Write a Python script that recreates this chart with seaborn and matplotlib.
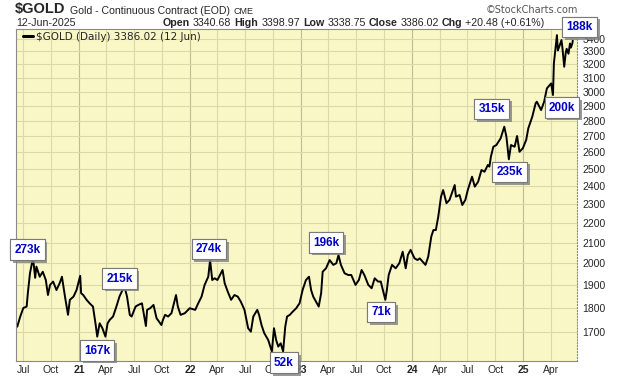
import pandas as pd
import seaborn as sns
import matplotlib.pyplot as plt
import matplotlib.dates as mdates
import matplotlib.ticker as mticker
from matplotlib import patheffects

# -------------------------------------------------
# Data
# -------------------------------------------------

dates = [
    "2020-06-12", "2020-06-22", "2020-07-02", "2020-07-13", "2020-07-17", "2020-07-24",
    "2020-08-03", "2020-08-10", "2020-08-14", "2020-08-25", "2020-09-04", "2020-09-14",
    "2020-09-21", "2020-09-28", "2020-10-08", "2020-10-19", "2020-10-30", "2020-11-06",
    "2020-11-16", "2020-11-26", "2020-12-02", "2020-12-14", "2020-12-24",
    "2021-01-05", "2021-01-08", "2021-01-15", "2021-01-26", "2021-02-05", "2021-02-16",
    "2021-02-25", "2021-03-02", "2021-03-10", "2021-03-19", "2021-03-29", "2021-04-05",
    "2021-04-12", "2021-04-23", "2021-05-04", "2021-05-14", "2021-05-24", "2021-06-01",
    "2021-06-08", "2021-06-17", "2021-06-23", "2021-07-06", "2021-07-15", "2021-07-27",
    "2021-08-09", "2021-08-13", "2021-08-23", "2021-09-03", "2021-09-13", "2021-09-29",
    "2021-10-04", "2021-10-11", "2021-10-21", "2021-11-01", "2021-11-16", "2021-11-22",
    "2021-12-01", "2021-12-15", "2021-12-31",
    "2022-01-18", "2022-01-28", "2022-02-08", "2022-02-18", "2022-03-02", "2022-03-08",
    "2022-03-15", "2022-03-23", "2022-04-01", "2022-04-18", "2022-04-25", "2022-05-05",
    "2022-05-16", "2022-05-27", "2022-06-07", "2022-06-17", "2022-06-29", "2022-07-11",
    "2022-07-20", "2022-07-28", "2022-08-10", "2022-08-16", "2022-08-24", "2022-09-02",
    "2022-09-15", "2022-09-27", "2022-10-04", "2022-10-11", "2022-10-18", "2022-10-26",
    "2022-11-03", "2022-11-10", "2022-11-16", "2022-11-25", "2022-12-05", "2022-12-16",
    "2022-12-27",
    "2023-01-06", "2023-01-17", "2023-01-27", "2023-02-03", "2023-02-10", "2023-02-28",
    "2023-03-08", "2023-03-13", "2023-03-24", "2023-04-05", "2023-04-17", "2023-04-27",
    "2023-05-04", "2023-05-12", "2023-05-24", "2023-06-05", "2023-06-15", "2023-06-29",
    "2023-07-10", "2023-07-19", "2023-07-28", "2023-08-10", "2023-08-21", "2023-08-31",
    "2023-09-11", "2023-09-20", "2023-10-05", "2023-10-10", "2023-10-16", "2023-10-27",
    "2023-11-08", "2023-11-20", "2023-12-01", "2023-12-11", "2023-12-18", "2023-12-27",
    "2024-01-09", "2024-01-19", "2024-01-26", "2024-02-14", "2024-02-23", "2024-03-04",
    "2024-03-11", "2024-03-19", "2024-03-27", "2024-04-05", "2024-04-12", "2024-04-23",
    "2024-05-03", "2024-05-20", "2024-05-24", "2024-06-05", "2024-06-14", "2024-06-24",
    "2024-07-02", "2024-07-16", "2024-07-25", "2024-08-05", "2024-08-16", "2024-08-26",
    "2024-09-06", "2024-09-11", "2024-09-16", "2024-09-24", "2024-10-04", "2024-10-18",
    "2024-10-30", "2024-11-06", "2024-11-14", "2024-11-21", "2024-12-03", "2024-12-11",
    "2024-12-19", "2024-12-30",
    "2025-01-10", "2025-01-17", "2025-01-30", "2025-02-10", "2025-02-14", "2025-02-28",
    "2025-03-10", "2025-03-19", "2025-04-02", "2025-04-08", "2025-04-11", "2025-04-21",
    "2025-04-24", "2025-04-29", "2025-05-06", "2025-05-09", "2025-05-15", "2025-05-20",
    "2025-05-23", "2025-05-29", "2025-06-03", "2025-06-06", "2025-06-11", "2025-06-12",
]

closes = [
    1721, 1763, 1799, 1805, 1864, 1954,
    2025, 1932, 1984, 1937, 1960, 1922,
    1855, 1900, 1915, 1877, 1909, 1937,
    1848, 1770, 1834, 1848, 1877,
    1941, 1863, 1855, 1834, 1819, 1805,
    1728, 1681, 1735, 1715, 1681, 1735,
    1749, 1763, 1805, 1848, 1877, 1885,
    1848, 1770, 1763, 1805, 1812, 1819,
    1724, 1791, 1798, 1812, 1756, 1728,
    1749, 1770, 1763, 1777, 1855, 1805,
    1770, 1777, 1798,
    1791, 1819, 1848, 1900, 1937, 2015,
    1922, 1930, 1922, 1968, 1907, 1870,
    1834, 1855, 1848, 1826, 1791, 1715,
    1701, 1763, 1791, 1770, 1728, 1695,
    1668, 1623, 1715, 1668, 1642, 1655,
    1623, 1721, 1763, 1770, 1784, 1798,
    1819,
    1877, 1922, 1937, 1877, 1848, 1805,
    1863, 1960, 1976, 2015, 1992, 2000,
    2039, 1992, 1953, 1945, 1945, 1900,
    1922, 1968, 1945, 1900, 1885, 1930,
    1915, 1915, 1834, 1877, 1945, 1992,
    1976, 2000, 2055, 1976, 2039, 2064,
    2023, 2015, 2023, 1992, 2031, 2130,
    2163, 2163, 2233, 2341, 2378, 2305,
    2323, 2406, 2341, 2350, 2295, 2323,
    2378, 2454, 2397, 2425, 2493, 2483,
    2523, 2513, 2573, 2634, 2645, 2687,
    2762, 2697, 2557, 2645, 2634, 2702,
    2603, 2625,
    2677, 2752, 2828, 2919, 2930, 2873,
    2930, 3024, 3060, 2977, 3208, 3430,
    3308, 3340, 3390, 3330, 3183, 3290,
    3321, 3282, 3363, 3330, 3365, 3386,
]

tick_dates = [
    "2020-07-01", "2020-10-01", "2021-01-01", "2021-04-01", "2021-07-01", "2021-10-01",
    "2022-01-01", "2022-04-01", "2022-07-01", "2022-10-01", "2023-01-01", "2023-04-01",
    "2023-07-01", "2023-10-01", "2024-01-01", "2024-04-01", "2024-07-01", "2024-10-01",
    "2025-01-01", "2025-04-01",
]
tick_labels = [
    "Jul", "Oct", "21", "Apr", "Jul", "Oct", "22", "Apr", "Jul", "Oct", "23", "Apr",
    "Jul", "Oct", "24", "Apr", "Jul", "Oct", "25", "Apr",
]
price_ticks = [1700, 1800, 1900, 2000, 2100, 2200, 2300, 2400, 2500,
               2600, 2700, 2800, 2900, 3000, 3100, 3200, 3300, 3400]

# volume callouts (thousands of contracts) and the bar they belong to
volume_labels = ["273k", "167k", "215k", "274k", "52k", "196k",
                 "71k", "315k", "235k", "200k", "188k"]
volume_dates = ["2020-08-03", "2021-03-02", "2021-06-01", "2022-03-08", "2022-11-03",
                "2023-05-04", "2023-10-05", "2024-10-30", "2024-11-14", "2025-04-08",
                "2025-06-12"]

quote_parts = [("Open", True), ("3340.68", False), ("High", True), ("3398.97", False),
               ("Low", True), ("3338.75", False), ("Close", True), ("3386.02", False),
               ("Chg", True), ("+20.48 (+0.61%)", False)]

# -------------------------------------------------
# Style
# -------------------------------------------------

sns.set_style("white")
plt.rcParams['font.family'] = ['Liberation Sans', 'DejaVu Sans']

W, H = 620, 376
BG = "#f9f7c6"
GRID = "#dcd9a8"
GRID_YEAR = "#bfbb92"
BLUE = "#0000c8"


def fx(px):
    return px / W


def fy(py):
    return 1 - py / H


def main():

    df = pd.DataFrame({"date": pd.to_datetime(dates), "close": closes})

    fig = plt.figure(figsize=(W / 100, H / 100), dpi=100)
    fig.patch.set_facecolor("white")

    ax = fig.add_axes([fx(16), fy(361), fx(577 - 16), (361 - 29) / H])
    ax.set_facecolor(BG)

    sns.lineplot(
        data=df,
        x="date",
        y="close",
        color="black",
        linewidth=1.4,
        label=r"\$GOLD (Daily) 3386.02 (12 Jun)",
        ax=ax
    )

    # log price scale, labels on the right
    ax.set_yscale("log")
    ax.set_ylim(1587, 3480)
    ax.yaxis.set_major_locator(mticker.FixedLocator(price_ticks))
    ax.yaxis.set_major_formatter(mticker.FuncFormatter(lambda v, _: f"{v:.0f}"))
    ax.yaxis.set_minor_locator(mticker.NullLocator())
    ax.yaxis.tick_right()

    ax.set_xlim(pd.Timestamp("2020-06-08"), pd.Timestamp("2025-06-26"))
    ax.set_xticks(mdates.date2num(pd.to_datetime(tick_dates)))
    ax.set_xticklabels(tick_labels)
    for lab in ax.get_xticklabels():
        if lab.get_text().isdigit():
            lab.set_fontweight("bold")
            lab.set_fontsize(8)

    ax.tick_params(axis="x", length=0, pad=3, labelsize=7.5)
    ax.tick_params(axis="y", length=0, pad=4, labelsize=7.5)
    ax.set_xlabel("")
    ax.set_ylabel("")

    ax.grid(True, color=GRID, linewidth=0.8)
    for gl, lab in zip(ax.xaxis.get_gridlines(), tick_labels):
        if lab.isdigit():
            gl.set_color(GRID_YEAR)

    for name, spine in ax.spines.items():
        spine.set_color("#8a8a8a")
        spine.set_linewidth(0.8)
    ax.spines["right"].set_linestyle(":")

    leg = ax.legend(
        loc="upper left",
        bbox_to_anchor=(-0.004, 1.02),
        frameon=False,
        handlelength=0.9,
        handletextpad=0.35,
        prop={"family": "DejaVu Sans", "size": 7.5}
    )
    for h in leg.get_lines():
        h.set_linewidth(2.2)

    # volume callouts: (dx, dy) offsets in points from the bar
    offsets = [(-4, 6), (0, -10), (-4, 7), (-1, 8), (0.5, -8), (-9, 9),
               (-3, -9), (-9, 13), (0.5, -9), (6.5, -9), (5, 10)]
    lookup = dict(zip(df["date"], df["close"]))
    for text, d, off in zip(volume_labels, volume_dates, offsets):
        when = pd.Timestamp(d)
        t = ax.annotate(
            text,
            xy=(when, lookup[when]),
            xytext=off,
            textcoords="offset points",
            ha="center",
            va="center",
            color=BLUE,
            fontsize=8.5,
            fontweight="bold",
            annotation_clip=False,
            zorder=5,
            bbox=dict(boxstyle="square,pad=0.35", fc="white", ec="#7a7a7a", lw=0.8)
        )
        t.get_bbox_patch().set_path_effects([
            patheffects.withSimplePatchShadow(offset=(2, -2), shadow_rgbFace="#808080", alpha=0.8),
            patheffects.Normal()
        ])

    # header: each piece placed right after the previous one
    renderer = fig.canvas.get_renderer()
    x = 15
    for word, size, weight in [(r"\$GOLD", 10.5, "bold"),
                               ("Gold - Continuous Contract (EOD)", 7.6, "normal"),
                               ("CME", 6.5, "normal")]:
        t = fig.text(fx(x), fy(13.5), word, fontsize=size, fontweight=weight, va="baseline")
        x += t.get_window_extent(renderer).width + 4

    fig.text(fx(578), fy(13), "\u00a9StockCharts.com", fontsize=7, color="#555555",
             family="DejaVu Sans", ha="right", va="baseline")
    fig.text(fx(16), fy(26), "12-Jun-2025", fontsize=7.7, va="baseline")

    x = 163
    for word, bold in quote_parts:
        t = fig.text(fx(x), fy(26), word, fontsize=7.7, va="baseline",
                     fontweight="bold" if bold else "normal", zorder=1)
        x += t.get_window_extent(renderer).width + 3

    fig.savefig("out.png", dpi=100, facecolor="white")
    plt.close(fig)


if __name__ == "__main__":
    main()
